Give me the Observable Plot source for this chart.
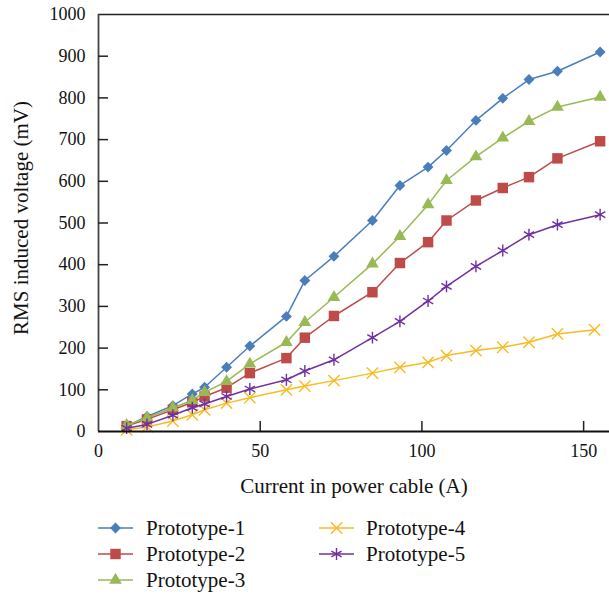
<!DOCTYPE html>
<html>
<head>
<meta charset="utf-8">
<script src="https://cdn.jsdelivr.net/npm/d3@7"></script>
<script src="https://cdn.jsdelivr.net/npm/@observablehq/plot@0.6"></script>
<style>
  body { margin: 0; background: #fff; }
  #chart { position: relative; width: 609px; height: 595px; }
  #chart svg { position: absolute; left: 0; }
</style>
</head>
<body>
<div id="chart"></div>
<script>
// Current in the power cable (A) for each measurement step
const current  = [8.7, 15, 23, 29, 32.8, 39.6, 46.8, 58.1, 63.8, 72.8, 84.7, 93.2, 101.9, 107.6, 116.7, 125, 133.1, 141.9, 155.1];
const current4 = [8.7, 15, 23, 29, 32.8, 39.6, 46.8, 58.1, 63.8, 72.8, 84.7, 93.2, 101.9, 107.6, 116.7, 125, 133.1, 141.9, 153.4];

// RMS induced voltage (mV)
const prototype1 = [13, 36, 62, 90, 106, 154, 205, 276, 362, 420, 506, 590, 634, 674, 746, 799, 844, 864, 910];
const prototype2 = [13, 29, 52, 70, 84, 105, 140, 176, 225, 277, 334, 404, 454, 506, 554, 584, 610, 655, 696];
const prototype3 = [15, 33, 57, 75, 94, 120, 162, 214, 262, 322, 402, 468, 544, 602, 659, 704, 744, 778, 802];
const prototype4 = [4, 11, 25, 40, 52, 68, 81, 100, 109, 122, 140, 154, 166, 182, 194, 202, 214, 234, 244];
const prototype5 = [8, 17, 39, 57, 66, 84, 102, 124, 145, 172, 225, 264, 313, 348, 396, 434, 472, 496, 520];

const seriesNames   = ["Prototype-1", "Prototype-2", "Prototype-3", "Prototype-4", "Prototype-5"];
const seriesX       = [current, current, current, current4, current];
const seriesY       = [prototype1, prototype2, prototype3, prototype4, prototype5];
const seriesColors  = ["#4a7ebb", "#be4b48", "#98b954", "#f8bb22", "#7030a0"];
const seriesSymbols = ["diamond2", "square", "triangle", "times", "asterisk"];
const symbolFilled  = [true, true, true, false, false];
const symbolRadius  = [4.9, 5.9, 4.7, 5.2, 5.6];

const xTicks = [0, 50, 100, 150];
const yTicks = d3.range(0, 1001, 100);

const xLabel = "Current in power cable (A)";
const yLabel = "RMS induced voltage (mV)";

const W = 609, H = 505;
const margin = {left: 98, right: 0, top: 14, bottom: 74};
const plotW = W - margin.left - margin.right;
const plotH = H - margin.top - margin.bottom;

const seriesMarks = seriesNames.flatMap((name, i) => {
  const rows = seriesX[i].map((x, j) => ({x, y: seriesY[i][j], name}));
  return [
    Plot.line(rows, {x: "x", y: "y", stroke: seriesColors[i], strokeWidth: 1.5}),
    Plot.dot(rows, {
      x: "x", y: "y",
      symbol: seriesSymbols[i],
      r: symbolRadius[i],
      fill: symbolFilled[i] ? seriesColors[i] : "none",
      stroke: symbolFilled[i] ? "none" : seriesColors[i],
      strokeWidth: 1.4
    })
  ];
});

const chart = Plot.plot({
  width: W,
  height: H,
  marginLeft: margin.left,
  marginRight: margin.right,
  marginTop: margin.top,
  marginBottom: margin.bottom,
  style: {fontFamily: "'Liberation Serif', serif", fontSize: "18px", color: "#111", background: "#fff"},
  x: {domain: [0, 158], label: null},
  y: {domain: [0, 1000], label: null},
  marks: [
    // frame: top border, bottom and left axis lines
    Plot.ruleY([1000], {stroke: "#222", strokeWidth: 1.5}),
    Plot.ruleX([0], {stroke: "#444", strokeWidth: 1.8}),
    // inward tick marks
    Plot.tickY(yTicks.slice(1, -1), {y: d => d, stroke: "#222", strokeWidth: 1.5, insetRight: plotW - 10}),
    Plot.tickX(xTicks.slice(1), {x: d => d, stroke: "#222", strokeWidth: 1.5, insetTop: plotH - 10}),
    Plot.axisY(yTicks, {tickSize: 0, tickPadding: 13, fontSize: 18, tickFormat: d => String(d)}),
    Plot.axisX(xTicks, {tickSize: 0, tickPadding: 13, fontSize: 18, tickFormat: d => String(d)}),
    ...seriesMarks,
    Plot.ruleY([0], {stroke: "#111", strokeWidth: 2}),
    Plot.text([xLabel], {text: d => d, frameAnchor: "bottom", dy: 55, lineAnchor: "middle", fontSize: 21, fill: "#111"}),
    Plot.text([yLabel], {text: d => d, frameAnchor: "left", textAnchor: "middle", rotate: -90, dx: -77, dy: -5, lineAnchor: "middle", fontSize: 21, fill: "#111"})
  ]
});
chart.style.top = "0px";
document.getElementById("chart").appendChild(chart);

// Legend: two columns below the chart
const legendTop = H;
const legend = d3.create("svg")
  .attr("width", W)
  .attr("height", 595 - legendTop)
  .style("top", legendTop + "px")
  .style("font-family", "'Liberation Serif', serif");

const colLine = [[98, 133], [319, 354]];
const colText = [146, 366];
const rowMid = [23, 49, 75];
const symbolMap = {
  diamond2: d3.symbolDiamond2, square: d3.symbolSquare, triangle: d3.symbolTriangle,
  times: d3.symbolTimes, asterisk: d3.symbolAsterisk
};

seriesNames.forEach((name, i) => {
  const col = i < 3 ? 0 : 1;
  const row = i < 3 ? i : i - 3;
  const [x1, x2] = colLine[col];
  const cy = rowMid[row];
  const g = legend.append("g");
  g.append("line")
    .attr("x1", x1).attr("x2", x2).attr("y1", cy).attr("y2", cy)
    .attr("stroke", seriesColors[i]).attr("stroke-width", 1.5);
  const r = symbolRadius[i];
  g.append("path")
    .attr("transform", `translate(${(x1 + x2) / 2},${cy})`)
    .attr("d", d3.symbol(symbolMap[seriesSymbols[i]], Math.PI * r * r)())
    .attr("fill", symbolFilled[i] ? seriesColors[i] : "none")
    .attr("stroke", symbolFilled[i] ? "none" : seriesColors[i])
    .attr("stroke-width", 1.4);
  g.append("text")
    .attr("x", colText[col]).attr("y", cy + 7)
    .attr("font-size", 21).attr("fill", "#111")
    .text(name);
});

document.getElementById("chart").appendChild(legend.node());
</script>
</body>
</html>
